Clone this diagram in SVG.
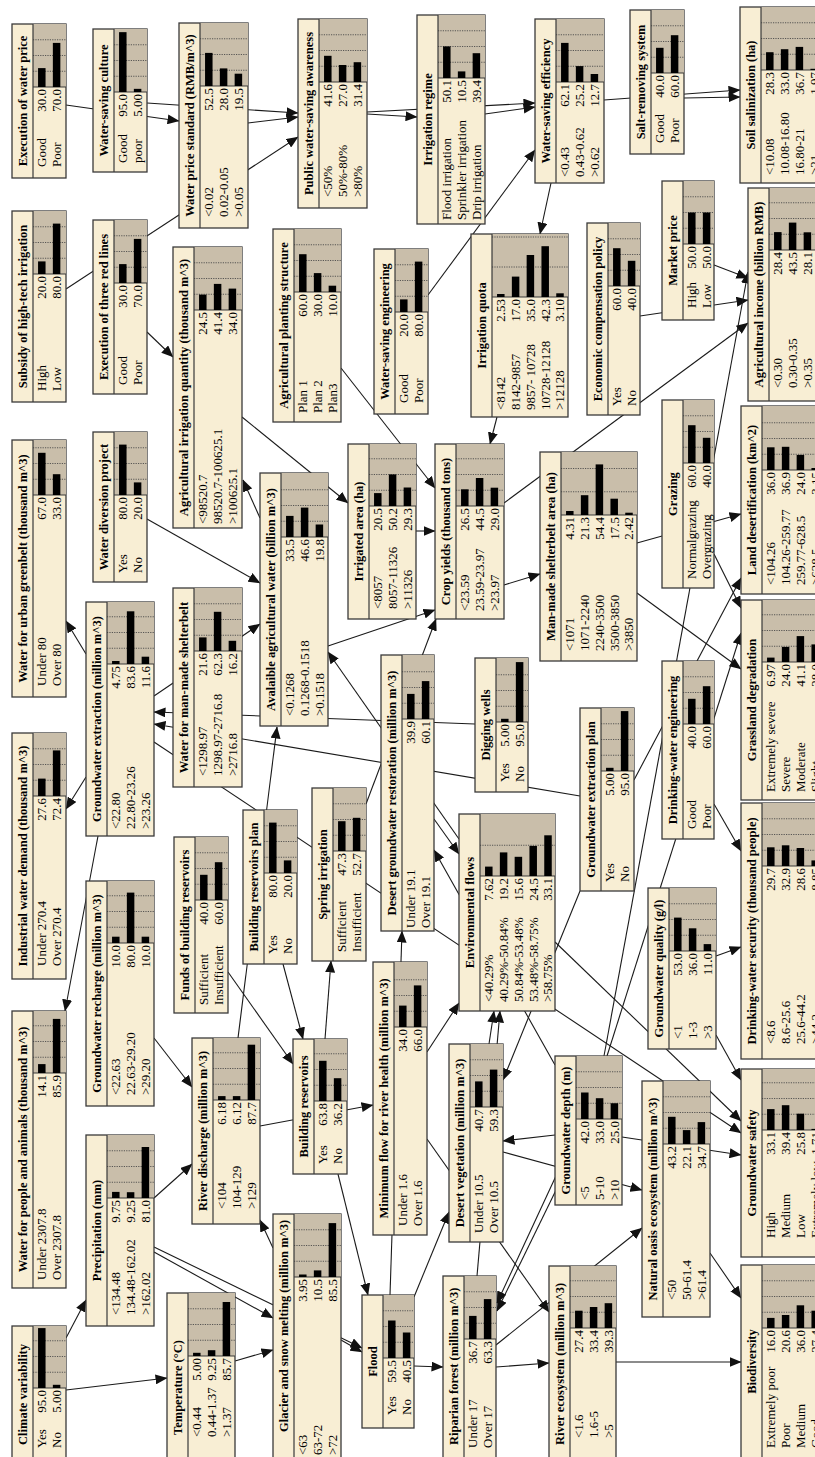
<svg xmlns="http://www.w3.org/2000/svg" width="815" height="1457" viewBox="0 0 815 1457">
<style>
.bx{fill:#f8eed4;stroke:#3a3a3a;stroke-width:1.3}
.gy{fill:#c9beaa}
.sp{fill:none;stroke:#3a3a3a;stroke-width:1.2}
.gd{fill:none;stroke:#4a4a4a;stroke-width:0.9;stroke-dasharray:1.2 1.2}
.br{fill:#000}
.tt{font-family:"Liberation Serif","Times New Roman",serif;font-weight:bold;font-size:12.5px;text-anchor:middle;fill:#000}
.ts{font-family:"Liberation Serif","Times New Roman",serif;font-weight:bold;font-size:12.5px;fill:#000}
.st{font-family:"Liberation Serif","Times New Roman",serif;font-size:13px;fill:#000}
.vl{font-family:"Liberation Serif","Times New Roman",serif;font-size:13px;text-anchor:end;fill:#000}
.cn line{stroke:#1a1a1a;stroke-width:1.1;marker-end:url(#ah)}
</style>
<defs><marker id="ah" viewBox="0 0 12 10" refX="11.5" refY="5" markerWidth="12" markerHeight="10" markerUnits="userSpaceOnUse" orient="auto"><path d="M0,0 L12,5 L0,10 z" fill="#111"/></marker></defs>
<rect width="815" height="1457" fill="#fff"/>
<g id="connectors" class="cn">
<line x1="66" y1="105" x2="179" y2="121"/>
<line x1="147" y1="103" x2="298" y2="113"/>
<line x1="248" y1="123" x2="298" y2="117"/>
<line x1="66" y1="289" x2="298" y2="137"/>
<line x1="367" y1="114" x2="417" y2="117"/>
<line x1="367" y1="112" x2="535" y2="103"/>
<line x1="485" y1="114" x2="535" y2="107"/>
<line x1="604" y1="100" x2="740" y2="90"/>
<line x1="684" y1="98" x2="740" y2="97"/>
<line x1="551" y1="183" x2="540" y2="234"/>
<line x1="428" y1="295" x2="535" y2="150"/>
<line x1="147" y1="332" x2="173" y2="357"/>
<line x1="341" y1="368" x2="435" y2="488"/>
<line x1="242" y1="417" x2="348" y2="503"/>
<line x1="714" y1="265" x2="748" y2="278"/>
<line x1="640" y1="316" x2="748" y2="300"/>
<line x1="504" y1="503" x2="748" y2="323"/>
<line x1="604" y1="1056" x2="748" y2="272"/>
<line x1="497" y1="417" x2="490" y2="444"/>
<line x1="416" y1="531" x2="435" y2="531"/>
<line x1="504" y1="585" x2="540" y2="574"/>
<line x1="328" y1="646" x2="435" y2="610"/>
<line x1="637" y1="543" x2="741" y2="514"/>
<line x1="714" y1="554" x2="741" y2="608"/>
<line x1="637" y1="593" x2="741" y2="669"/>
<line x1="634" y1="780" x2="741" y2="578"/>
<line x1="607" y1="1056" x2="741" y2="633"/>
<line x1="580" y1="796" x2="154" y2="724"/>
<line x1="475" y1="724" x2="154" y2="712"/>
<line x1="86" y1="654" x2="66" y2="621"/>
<line x1="86" y1="777" x2="66" y2="809"/>
<line x1="98" y1="836" x2="65" y2="1011"/>
<line x1="154" y1="696" x2="260" y2="624"/>
<line x1="154" y1="742" x2="741" y2="1133"/>
<line x1="147" y1="519" x2="260" y2="583"/>
<line x1="459" y1="839" x2="328" y2="652"/>
<line x1="434" y1="819" x2="459" y2="854"/>
<line x1="555" y1="1065" x2="434" y2="850"/>
<line x1="555" y1="1135" x2="503" y2="1141"/>
<line x1="503" y1="1152" x2="642" y2="1190"/>
<line x1="622" y1="1137" x2="741" y2="1155"/>
<line x1="555" y1="942" x2="741" y2="1121"/>
<line x1="716" y1="956" x2="741" y2="947"/>
<line x1="714" y1="804" x2="741" y2="851"/>
<line x1="716" y1="1035" x2="741" y2="1080"/>
<line x1="710" y1="1253" x2="741" y2="1298"/>
<line x1="616" y1="1362" x2="741" y2="1362"/>
<line x1="496" y1="1345" x2="642" y2="1228"/>
<line x1="496" y1="1367" x2="549" y2="1363"/>
<line x1="427" y1="1139" x2="549" y2="1312"/>
<line x1="477" y1="1276" x2="500" y2="1011"/>
<line x1="489" y1="1044" x2="494" y2="1011"/>
<line x1="427" y1="1052" x2="459" y2="1003"/>
<line x1="390" y1="1295" x2="402" y2="931"/>
<line x1="325" y1="1039" x2="331" y2="961"/>
<line x1="283" y1="964" x2="303" y2="1039"/>
<line x1="228" y1="972" x2="293" y2="1064"/>
<line x1="260" y1="1126" x2="373" y2="1105"/>
<line x1="338" y1="1174" x2="368" y2="1295"/>
<line x1="414" y1="1297" x2="449" y2="1212"/>
<line x1="580" y1="891" x2="503" y2="1080"/>
<line x1="273" y1="1248" x2="260" y2="1220"/>
<line x1="154" y1="1198" x2="192" y2="1164"/>
<line x1="154" y1="1038" x2="192" y2="1087"/>
<line x1="154" y1="1247" x2="362" y2="1348"/>
<line x1="154" y1="1252" x2="273" y2="1318"/>
<line x1="235" y1="1361" x2="273" y2="1350"/>
<line x1="341" y1="1340" x2="362" y2="1352"/>
<line x1="66" y1="1338" x2="86" y2="1300"/>
<line x1="66" y1="1390" x2="167" y2="1378"/>
<line x1="238" y1="1038" x2="277" y2="727"/>
<line x1="366" y1="804" x2="436" y2="619"/>
<line x1="414" y1="1366" x2="443" y2="1367"/>
<line x1="575" y1="1135" x2="497" y2="1303"/>
<line x1="600" y1="1100" x2="497" y2="1311"/>
<line x1="260" y1="518" x2="243" y2="480"/>
</g>

<g id="exec-water-price" transform="translate(12,178) rotate(-90)">
<rect class="bx" width="154" height="54"/><rect class="gy" x="91" y="21" width="63" height="33"/>
<path class="gd" d="M106.75 21V54M122.5 21V54M138.25 21V54"/><path class="sp" d="M0 21H154M91 21V54"/>
<rect class="br" x="91" y="26.05" width="18.9" height="7.5"/><rect class="br" x="91" y="40.85" width="44.1" height="7.5"/>
<text class="tt" x="77" y="15">Execution of water price</text>
<text class="st" x="11" y="34.1">Good</text><text class="st" x="11" y="48.9">Poor</text>
<text class="vl" x="89" y="34.1">30.0</text><text class="vl" x="89" y="48.9">70.0</text>
</g>
<g id="water-saving-culture" transform="translate(93,172) rotate(-90)">
<rect class="bx" width="143" height="54"/><rect class="gy" x="80" y="21" width="63" height="33"/>
<path class="gd" d="M95.75 21V54M111.5 21V54M127.25 21V54"/><path class="sp" d="M0 21H143M80 21V54"/>
<rect class="br" x="80" y="26.05" width="59.85" height="7.5"/><rect class="br" x="80" y="40.85" width="3.15" height="7.5"/>
<text class="tt" x="71.5" y="15">Water-saving culture</text>
<text class="st" x="9" y="34.1">Good</text><text class="st" x="9" y="48.9">poor</text>
<text class="vl" x="78" y="34.1">95.0</text><text class="vl" x="78" y="48.9">5.00</text>
</g>
<g id="water-price-standard" transform="translate(179,228) rotate(-90)">
<rect class="bx" width="205" height="69"/><rect class="gy" x="142" y="21" width="63" height="48"/>
<path class="gd" d="M157.75 21V69M173.5 21V69M189.25 21V69"/><path class="sp" d="M0 21H205M142 21V69"/>
<rect class="br" x="142" y="26.05" width="33.1" height="7.5"/><rect class="br" x="142" y="40.85" width="17.6" height="7.5"/><rect class="br" x="142" y="55.65" width="12.3" height="7.5"/>
<text class="tt" x="102.5" y="15">Water price standard (RMB/m^3)</text>
<text class="st" x="11" y="34.1">&lt;0.02</text><text class="st" x="11" y="48.9">0.02-0.05</text><text class="st" x="11" y="63.7">&gt;0.05</text>
<text class="vl" x="140" y="34.1">52.5</text><text class="vl" x="140" y="48.9">28.0</text><text class="vl" x="140" y="63.7">19.5</text>
</g>
<g id="public-water-saving-awareness" transform="translate(298,208) rotate(-90)">
<rect class="bx" width="189" height="69"/><rect class="gy" x="126" y="21" width="63" height="48"/>
<path class="gd" d="M141.75 21V69M157.5 21V69M173.25 21V69"/><path class="sp" d="M0 21H189M126 21V69"/>
<rect class="br" x="126" y="26.05" width="26.2" height="7.5"/><rect class="br" x="126" y="40.85" width="17" height="7.5"/><rect class="br" x="126" y="55.65" width="19.8" height="7.5"/>
<text class="tt" x="94.5" y="15">Public water-saving awareness</text>
<text class="st" x="11" y="34.1">&lt;50%</text><text class="st" x="11" y="48.9">50%-80%</text><text class="st" x="11" y="63.7">&gt;80%</text>
<text class="vl" x="124" y="34.1">41.6</text><text class="vl" x="124" y="48.9">27.0</text><text class="vl" x="124" y="63.7">31.4</text>
</g>
<g id="irrigation-regime" transform="translate(417,224) rotate(-90)">
<rect class="bx" width="209" height="68"/><rect class="gy" x="146" y="21" width="63" height="47"/>
<path class="gd" d="M161.75 21V68M177.5 21V68M193.25 21V68"/><path class="sp" d="M0 21H209M146 21V68"/>
<rect class="br" x="146" y="26.05" width="31.6" height="7.5"/><rect class="br" x="146" y="40.85" width="6.6" height="7.5"/><rect class="br" x="146" y="55.65" width="24.8" height="7.5"/>
<text class="tt" x="104.5" y="15">Irrigation regime</text>
<text class="st" x="4" y="34.1">Flood irrigation</text><text class="st" x="4" y="48.9">Sprinkler irrigation</text><text class="st" x="4" y="63.7">Drip irrigation</text>
<text class="vl" x="144" y="34.1">50.1</text><text class="vl" x="144" y="48.9">10.5</text><text class="vl" x="144" y="63.7">39.4</text>
</g>
<g id="water-saving-efficiency" transform="translate(535,183) rotate(-90)">
<rect class="bx" width="164" height="69"/><rect class="gy" x="101" y="21" width="63" height="48"/>
<path class="gd" d="M116.75 21V69M132.5 21V69M148.25 21V69"/><path class="sp" d="M0 21H164M101 21V69"/>
<rect class="br" x="101" y="26.05" width="39.1" height="7.5"/><rect class="br" x="101" y="40.85" width="15.9" height="7.5"/><rect class="br" x="101" y="55.65" width="8" height="7.5"/>
<text class="tt" x="82" y="15">Water-saving efficiency</text>
<text class="st" x="6" y="34.1">&lt;0.43</text><text class="st" x="6" y="48.9">0.43-0.62</text><text class="st" x="6" y="63.7">&gt;0.62</text>
<text class="vl" x="99" y="34.1">62.1</text><text class="vl" x="99" y="48.9">25.2</text><text class="vl" x="99" y="63.7">12.7</text>
</g>
<g id="salt-removing-system" transform="translate(630,154) rotate(-90)">
<rect class="bx" width="144" height="54"/><rect class="gy" x="81" y="21" width="63" height="33"/>
<path class="gd" d="M96.75 21V54M112.5 21V54M128.25 21V54"/><path class="sp" d="M0 21H144M81 21V54"/>
<rect class="br" x="81" y="26.05" width="25.2" height="7.5"/><rect class="br" x="81" y="40.85" width="37.8" height="7.5"/>
<text class="tt" x="72" y="15">Salt-removing system</text>
<text class="st" x="11" y="34.1">Good</text><text class="st" x="11" y="48.9">Poor</text>
<text class="vl" x="79" y="34.1">40.0</text><text class="vl" x="79" y="48.9">60.0</text>
</g>
<g id="soil-salinization" transform="translate(740,183) rotate(-90)">
<rect class="bx" width="176" height="84"/><rect class="gy" x="113" y="21" width="63" height="63"/>
<path class="gd" d="M128.75 21V84M144.5 21V84M160.25 21V84"/><path class="sp" d="M0 21H176M113 21V84"/>
<rect class="br" x="113" y="26.05" width="17.8" height="7.5"/><rect class="br" x="113" y="40.85" width="20.8" height="7.5"/><rect class="br" x="113" y="55.65" width="23.1" height="7.5"/><rect class="br" x="113" y="70.45" width="1.2" height="7.5"/>
<text class="tt" x="88" y="15">Soil salinization (ha)</text>
<text class="st" x="8" y="34.1">&lt;10.08</text><text class="st" x="8" y="48.9">10.08-16.80</text><text class="st" x="8" y="63.7">16.80-21</text><text class="st" x="8" y="78.5">&gt;21</text>
<text class="vl" x="111" y="34.1">28.3</text><text class="vl" x="111" y="48.9">33.0</text><text class="vl" x="111" y="63.7">36.7</text><text class="vl" x="111" y="78.5">1.97</text>
</g>
<g id="subsidy-high-tech-irrigation" transform="translate(12,402) rotate(-90)">
<rect class="bx" width="191" height="54"/><rect class="gy" x="128" y="21" width="63" height="33"/>
<path class="gd" d="M143.75 21V54M159.5 21V54M175.25 21V54"/><path class="sp" d="M0 21H191M128 21V54"/>
<rect class="br" x="128" y="26.05" width="12.6" height="7.5"/><rect class="br" x="128" y="40.85" width="50.4" height="7.5"/>
<text class="tt" x="95.5" y="15">Subsidy of high-tech irrigation</text>
<text class="st" x="11" y="34.1">High</text><text class="st" x="11" y="48.9">Low</text>
<text class="vl" x="126" y="34.1">20.0</text><text class="vl" x="126" y="48.9">80.0</text>
</g>
<g id="execution-three-red-lines" transform="translate(93,394) rotate(-90)">
<rect class="bx" width="174" height="54"/><rect class="gy" x="111" y="21" width="63" height="33"/>
<path class="gd" d="M126.75 21V54M142.5 21V54M158.25 21V54"/><path class="sp" d="M0 21H174M111 21V54"/>
<rect class="br" x="111" y="26.05" width="18.9" height="7.5"/><rect class="br" x="111" y="40.85" width="44.1" height="7.5"/>
<text class="tt" x="87" y="15">Execution of three red lines</text>
<text class="st" x="9" y="34.1">Good</text><text class="st" x="9" y="48.9">Poor</text>
<text class="vl" x="109" y="34.1">30.0</text><text class="vl" x="109" y="48.9">70.0</text>
</g>
<g id="agricultural-irrigation-quantity" transform="translate(173,528) rotate(-90)">
<rect class="bx" width="281" height="69"/><rect class="gy" x="218" y="21" width="63" height="48"/>
<path class="gd" d="M233.75 21V69M249.5 21V69M265.25 21V69"/><path class="sp" d="M0 21H281M218 21V69"/>
<rect class="br" x="218" y="26.05" width="15.4" height="7.5"/><rect class="br" x="218" y="40.85" width="26.1" height="7.5"/><rect class="br" x="218" y="55.65" width="21.4" height="7.5"/>
<text class="tt" x="140.5" y="15">Agricultural irrigation quantity (thousand m^3)</text>
<text class="st" x="4" y="34.1">&lt;98520.7</text><text class="st" x="4" y="48.9">98520.7-100625.1</text><text class="st" x="4" y="63.7">&gt;100625.1</text>
<text class="vl" x="216" y="34.1">24.5</text><text class="vl" x="216" y="48.9">41.4</text><text class="vl" x="216" y="63.7">34.0</text>
</g>
<g id="agricultural-planting-structure" transform="translate(273,422) rotate(-90)">
<rect class="bx" width="193" height="68"/><rect class="gy" x="130" y="21" width="63" height="47"/>
<path class="gd" d="M145.75 21V68M161.5 21V68M177.25 21V68"/><path class="sp" d="M0 21H193M130 21V68"/>
<rect class="br" x="130" y="26.05" width="37.8" height="7.5"/><rect class="br" x="130" y="40.85" width="18.9" height="7.5"/><rect class="br" x="130" y="55.65" width="6.3" height="7.5"/>
<text class="tt" x="96.5" y="15">Agricultural planting structure</text>
<text class="st" x="9" y="34.1">Plan 1</text><text class="st" x="9" y="48.9">Plan 2</text><text class="st" x="9" y="63.7">Plan3</text>
<text class="vl" x="128" y="34.1">60.0</text><text class="vl" x="128" y="48.9">30.0</text><text class="vl" x="128" y="63.7">10.0</text>
</g>
<g id="water-saving-engineering" transform="translate(374,414) rotate(-90)">
<rect class="bx" width="165" height="54"/><rect class="gy" x="102" y="21" width="63" height="33"/>
<path class="gd" d="M117.75 21V54M133.5 21V54M149.25 21V54"/><path class="sp" d="M0 21H165M102 21V54"/>
<rect class="br" x="102" y="26.05" width="12.6" height="7.5"/><rect class="br" x="102" y="40.85" width="50.4" height="7.5"/>
<text class="tt" x="82.5" y="15">Water-saving engineering</text>
<text class="st" x="11" y="34.1">Good</text><text class="st" x="11" y="48.9">Poor</text>
<text class="vl" x="100" y="34.1">20.0</text><text class="vl" x="100" y="48.9">80.0</text>
</g>
<g id="irrigation-quota" transform="translate(471,417) rotate(-90)">
<rect class="bx" width="183" height="97"/><rect class="gy" x="120" y="21" width="63" height="76"/>
<path class="gd" d="M150 21V97M180 21V97"/><path class="sp" d="M0 21H183M120 21V97"/>
<rect class="br" x="120" y="26.05" width="3" height="7.5"/><rect class="br" x="120" y="40.85" width="20.4" height="7.5"/><rect class="br" x="120" y="55.65" width="42" height="7.5"/><rect class="br" x="120" y="70.45" width="50.8" height="7.5"/><rect class="br" x="120" y="85.25" width="3.7" height="7.5"/>
<text class="tt" x="91.5" y="15">Irrigation quota</text>
<text class="st" x="7" y="34.1">&lt;8142</text><text class="st" x="7" y="48.9">8142-9857</text><text class="st" x="7" y="63.7">9857- 10728</text><text class="st" x="7" y="78.5">10728-12128</text><text class="st" x="7" y="93.3">&gt;12128</text>
<text class="vl" x="118" y="34.1">2.53</text><text class="vl" x="118" y="48.9">17.0</text><text class="vl" x="118" y="63.7">35.0</text><text class="vl" x="118" y="78.5">42.3</text><text class="vl" x="118" y="93.3">3.10</text>
</g>
<g id="economic-compensation-policy" transform="translate(587,415) rotate(-90)">
<rect class="bx" width="192" height="53"/><rect class="gy" x="129" y="21" width="63" height="32"/>
<path class="gd" d="M144.75 21V53M160.5 21V53M176.25 21V53"/><path class="sp" d="M0 21H192M129 21V53"/>
<rect class="br" x="129" y="26.05" width="37.8" height="7.5"/><rect class="br" x="129" y="40.85" width="25.2" height="7.5"/>
<text class="tt" x="96" y="15">Economic compensation policy</text>
<text class="st" x="9" y="34.1">Yes</text><text class="st" x="9" y="48.9">No</text>
<text class="vl" x="127" y="34.1">60.0</text><text class="vl" x="127" y="48.9">40.0</text>
</g>
<g id="market-price" transform="translate(662,320) rotate(-90)">
<rect class="bx" width="139" height="52"/><rect class="gy" x="76" y="21" width="63" height="31"/>
<path class="gd" d="M91.75 21V52M107.5 21V52M123.25 21V52"/><path class="sp" d="M0 21H139M76 21V52"/>
<rect class="br" x="76" y="26.05" width="31.5" height="7.5"/><rect class="br" x="76" y="40.85" width="31.5" height="7.5"/>
<text class="tt" x="69.5" y="15">Market price</text>
<text class="st" x="12" y="34.1">High</text><text class="st" x="12" y="48.9">Low</text>
<text class="vl" x="74" y="34.1">50.0</text><text class="vl" x="74" y="48.9">50.0</text>
</g>
<g id="agricultural-income" transform="translate(748,401) rotate(-90)">
<rect class="bx" width="213" height="68"/><rect class="gy" x="151" y="21" width="62" height="47"/>
<path class="gd" d="M166.75 21V68M182.5 21V68M198.25 21V68"/><path class="sp" d="M0 21H213M151 21V68"/>
<rect class="br" x="151" y="26.05" width="17.9" height="7.5"/><rect class="br" x="151" y="40.85" width="27.4" height="7.5"/><rect class="br" x="151" y="55.65" width="17.7" height="7.5"/>
<text class="tt" x="106.5" y="15">Agricultural income (billion RMB)</text>
<text class="st" x="13" y="34.1">&lt;0.30</text><text class="st" x="13" y="48.9">0.30-0.35</text><text class="st" x="13" y="63.7">&gt;0.35</text>
<text class="vl" x="149" y="34.1">28.4</text><text class="vl" x="149" y="48.9">43.5</text><text class="vl" x="149" y="63.7">28.1</text>
</g>
<g id="grazing" transform="translate(662,588) rotate(-90)">
<rect class="bx" width="188" height="52"/><rect class="gy" x="125" y="21" width="63" height="31"/>
<path class="gd" d="M140.75 21V52M156.5 21V52M172.25 21V52"/><path class="sp" d="M0 21H188M125 21V52"/>
<rect class="br" x="125" y="26.05" width="37.8" height="7.5"/><rect class="br" x="125" y="40.85" width="25.2" height="7.5"/>
<text class="tt" x="94" y="15">Grazing</text>
<text class="st" x="9" y="34.1">Normalgrazing</text><text class="st" x="9" y="48.9">Overgrazing</text>
<text class="vl" x="123" y="34.1">60.0</text><text class="vl" x="123" y="48.9">40.0</text>
</g>
<g id="land-desertification" transform="translate(741,594) rotate(-90)">
<rect class="bx" width="188" height="84"/><rect class="gy" x="124" y="21" width="64" height="63"/>
<path class="gd" d="M139.75 21V84M155.5 21V84M171.25 21V84"/><path class="sp" d="M0 21H188M124 21V84"/>
<rect class="br" x="124" y="26.05" width="22.7" height="7.5"/><rect class="br" x="124" y="40.85" width="23.2" height="7.5"/><rect class="br" x="124" y="55.65" width="15.1" height="7.5"/><rect class="br" x="124" y="70.45" width="2" height="7.5"/>
<text class="tt" x="94" y="15">Land desertification (km^2)</text>
<text class="st" x="9" y="34.1">&lt;104.26</text><text class="st" x="9" y="48.9">104.26-259.77</text><text class="st" x="9" y="63.7">259.77-628.5</text><text class="st" x="9" y="78.5">&gt;628.5</text>
<text class="vl" x="122" y="34.1">36.0</text><text class="vl" x="122" y="48.9">36.9</text><text class="vl" x="122" y="63.7">24.0</text><text class="vl" x="122" y="78.5">3.15</text>
</g>
<g id="crop-yields" transform="translate(435,619) rotate(-90)">
<rect class="bx" width="175" height="69"/><rect class="gy" x="113" y="21" width="62" height="48"/>
<path class="gd" d="M128.75 21V69M144.5 21V69M160.25 21V69"/><path class="sp" d="M0 21H175M113 21V69"/>
<rect class="br" x="113" y="26.05" width="16.7" height="7.5"/><rect class="br" x="113" y="40.85" width="28" height="7.5"/><rect class="br" x="113" y="55.65" width="18.3" height="7.5"/>
<text class="tt" x="87.5" y="15">Crop yields (thousand tons)</text>
<text class="st" x="8" y="34.1">&lt;23.59</text><text class="st" x="8" y="48.9">23.59-23.97</text><text class="st" x="8" y="63.7">&gt;23.97</text>
<text class="vl" x="111" y="34.1">26.5</text><text class="vl" x="111" y="48.9">44.5</text><text class="vl" x="111" y="63.7">29.0</text>
</g>
<g id="man-made-shelterbelt-area" transform="translate(540,661) rotate(-90)">
<rect class="bx" width="209" height="97"/><rect class="gy" x="146" y="21" width="63" height="76"/>
<path class="gd" d="M169.25 21V97M192.5 21V97"/><path class="sp" d="M0 21H209M146 21V97"/>
<rect class="br" x="146" y="26.05" width="4" height="7.5"/><rect class="br" x="146" y="40.85" width="19.8" height="7.5"/><rect class="br" x="146" y="55.65" width="50.6" height="7.5"/><rect class="br" x="146" y="70.45" width="16.3" height="7.5"/><rect class="br" x="146" y="85.25" width="2.3" height="7.5"/>
<text class="tt" x="104.5" y="15">Man-made shelterbelt area (ha)</text>
<text class="st" x="10" y="34.1">&lt;1071</text><text class="st" x="10" y="48.9">1071-2240</text><text class="st" x="10" y="63.7">2240-3500</text><text class="st" x="10" y="78.5">3500-3850</text><text class="st" x="10" y="93.3">&gt;3850</text>
<text class="vl" x="144" y="34.1">4.31</text><text class="vl" x="144" y="48.9">21.3</text><text class="vl" x="144" y="63.7">54.4</text><text class="vl" x="144" y="78.5">17.5</text><text class="vl" x="144" y="93.3">2.42</text>
</g>
<g id="irrigated-area" transform="translate(348,619) rotate(-90)">
<rect class="bx" width="175" height="68"/><rect class="gy" x="113" y="21" width="62" height="47"/>
<path class="gd" d="M128.75 21V68M144.5 21V68M160.25 21V68"/><path class="sp" d="M0 21H175M113 21V68"/>
<rect class="br" x="113" y="26.05" width="12.9" height="7.5"/><rect class="br" x="113" y="40.85" width="31.6" height="7.5"/><rect class="br" x="113" y="55.65" width="18.5" height="7.5"/>
<text class="tt" x="87.5" y="15">Irrigated area (ha)</text>
<text class="st" x="10" y="34.1">&lt;8057</text><text class="st" x="10" y="48.9">8057-11326</text><text class="st" x="10" y="63.7">&gt;11326</text>
<text class="vl" x="111" y="34.1">20.5</text><text class="vl" x="111" y="48.9">50.2</text><text class="vl" x="111" y="63.7">29.3</text>
</g>
<g id="available-agricultural-water" transform="translate(260,726) rotate(-90)">
<rect class="bx" width="253" height="68"/><rect class="gy" x="189" y="21" width="64" height="47"/>
<path class="gd" d="M204.75 21V68M220.5 21V68M236.25 21V68"/><path class="sp" d="M0 21H253M189 21V68"/>
<rect class="br" x="189" y="26.05" width="21.1" height="7.5"/><rect class="br" x="189" y="40.85" width="29.4" height="7.5"/><rect class="br" x="189" y="55.65" width="12.5" height="7.5"/>
<text class="tt" x="126.5" y="15">Avalaible agricultural water (billion m^3)</text>
<text class="st" x="10" y="34.1">&lt;0.1268</text><text class="st" x="10" y="48.9">0.1268-0.1518</text><text class="st" x="10" y="63.7">&gt;0.1518</text>
<text class="vl" x="187" y="34.1">33.5</text><text class="vl" x="187" y="48.9">46.6</text><text class="vl" x="187" y="63.7">19.8</text>
</g>
<g id="water-urban-greenbelt" transform="translate(12,697) rotate(-90)">
<rect class="bx" width="257" height="54"/><rect class="gy" x="202" y="21" width="55" height="33"/>
<path class="gd" d="M217.75 21V54M233.5 21V54M249.25 21V54"/><path class="sp" d="M0 21H257M202 21V54"/>
<rect class="br" x="202" y="26.05" width="42.2" height="7.5"/><rect class="br" x="202" y="40.85" width="20.8" height="7.5"/>
<text class="tt" x="128.5" y="15">Water for urban greenbelt (thousand m^3)</text>
<text class="st" x="11" y="34.1">Under 80</text><text class="st" x="11" y="48.9">Over 80</text>
<text class="vl" x="200" y="34.1">67.0</text><text class="vl" x="200" y="48.9">33.0</text>
</g>
<g id="water-diversion-project" transform="translate(93,582) rotate(-90)">
<rect class="bx" width="150" height="54"/><rect class="gy" x="87" y="21" width="63" height="33"/>
<path class="gd" d="M102.75 21V54M118.5 21V54M134.25 21V54"/><path class="sp" d="M0 21H150M87 21V54"/>
<rect class="br" x="87" y="26.05" width="50.4" height="7.5"/><rect class="br" x="87" y="40.85" width="12.6" height="7.5"/>
<text class="tt" x="75" y="15">Water diversion project</text>
<text class="st" x="9" y="34.1">Yes</text><text class="st" x="9" y="48.9">No</text>
<text class="vl" x="85" y="34.1">80.0</text><text class="vl" x="85" y="48.9">20.0</text>
</g>
<g id="groundwater-extraction" transform="translate(86,836) rotate(-90)">
<rect class="bx" width="234" height="68"/><rect class="gy" x="172" y="21" width="62" height="47"/>
<path class="gd" d="M187.75 21V68M203.5 21V68M219.25 21V68"/><path class="sp" d="M0 21H234M172 21V68"/>
<rect class="br" x="172" y="26.05" width="3" height="7.5"/><rect class="br" x="172" y="40.85" width="52.7" height="7.5"/><rect class="br" x="172" y="55.65" width="7.3" height="7.5"/>
<text class="tt" x="117" y="15">Groundwater extraction (million m^3)</text>
<text class="st" x="7" y="34.1">&lt;22.80</text><text class="st" x="7" y="48.9">22.80-23.26</text><text class="st" x="7" y="63.7">&gt;23.26</text>
<text class="vl" x="170" y="34.1">4.75</text><text class="vl" x="170" y="48.9">83.6</text><text class="vl" x="170" y="63.7">11.6</text>
</g>
<g id="water-man-made-shelterbelt" transform="translate(173,787) rotate(-90)">
<rect class="bx" width="199" height="69"/><rect class="gy" x="136" y="21" width="63" height="48"/>
<path class="gd" d="M151.75 21V69M167.5 21V69M183.25 21V69"/><path class="sp" d="M0 21H199M136 21V69"/>
<rect class="br" x="136" y="26.05" width="13.6" height="7.5"/><rect class="br" x="136" y="40.85" width="39.2" height="7.5"/><rect class="br" x="136" y="55.65" width="10.2" height="7.5"/>
<text class="tt" x="99.5" y="15">Water for man-made shelterbelt</text>
<text class="st" x="11" y="34.1">&lt;1298.97</text><text class="st" x="11" y="48.9">1298.97-2716.8</text><text class="st" x="11" y="63.7">&gt;2716.8</text>
<text class="vl" x="134" y="34.1">21.6</text><text class="vl" x="134" y="48.9">62.3</text><text class="vl" x="134" y="63.7">16.2</text>
</g>
<g id="industrial-water-demand" transform="translate(12,979) rotate(-90)">
<rect class="bx" width="246" height="54"/><rect class="gy" x="183" y="21" width="63" height="33"/>
<path class="gd" d="M198.75 21V54M214.5 21V54M230.25 21V54"/><path class="sp" d="M0 21H246M183 21V54"/>
<rect class="br" x="183" y="26.05" width="17.4" height="7.5"/><rect class="br" x="183" y="40.85" width="45.6" height="7.5"/>
<text class="tt" x="123" y="15">Industrial water demand (thousand m^3)</text>
<text class="st" x="13" y="34.1">Under 270.4</text><text class="st" x="13" y="48.9">Over 270.4</text>
<text class="vl" x="181" y="34.1">27.6</text><text class="vl" x="181" y="48.9">72.4</text>
</g>
<g id="groundwater-recharge" transform="translate(86,1106) rotate(-90)">
<rect class="bx" width="225" height="68"/><rect class="gy" x="163" y="21" width="62" height="47"/>
<path class="gd" d="M178.75 21V68M194.5 21V68M210.25 21V68"/><path class="sp" d="M0 21H225M163 21V68"/>
<rect class="br" x="163" y="26.05" width="6.3" height="7.5"/><rect class="br" x="163" y="40.85" width="50.4" height="7.5"/><rect class="br" x="163" y="55.65" width="6.3" height="7.5"/>
<text class="tt" x="112.5" y="15">Groundwater recharge (million m^3)</text>
<text class="st" x="11" y="34.1">&lt;22.63</text><text class="st" x="11" y="48.9">22.63-29.20</text><text class="st" x="11" y="63.7">&gt;29.20</text>
<text class="vl" x="161" y="34.1">10.0</text><text class="vl" x="161" y="48.9">80.0</text><text class="vl" x="161" y="63.7">10.0</text>
</g>
<g id="funds-building-reservoirs" transform="translate(174,1013) rotate(-90)">
<rect class="bx" width="176" height="54"/><rect class="gy" x="113" y="21" width="63" height="33"/>
<path class="gd" d="M128.75 21V54M144.5 21V54M160.25 21V54"/><path class="sp" d="M0 21H176M113 21V54"/>
<rect class="br" x="113" y="26.05" width="25.2" height="7.5"/><rect class="br" x="113" y="40.85" width="37.8" height="7.5"/>
<text class="tt" x="88" y="15">Funds of building reservoirs</text>
<text class="st" x="8" y="34.1">Sufficient</text><text class="st" x="8" y="48.9">Insufficient</text>
<text class="vl" x="111" y="34.1">40.0</text><text class="vl" x="111" y="48.9">60.0</text>
</g>
<g id="building-reservoirs-plan" transform="translate(243,964) rotate(-90)">
<rect class="bx" width="154" height="54"/><rect class="gy" x="91" y="21" width="63" height="33"/>
<path class="gd" d="M106.75 21V54M122.5 21V54M138.25 21V54"/><path class="sp" d="M0 21H154M91 21V54"/>
<rect class="br" x="91" y="26.05" width="50.4" height="7.5"/><rect class="br" x="91" y="40.85" width="12.6" height="7.5"/>
<text class="tt" x="77" y="15">Building reservoirs plan</text>
<text class="st" x="10" y="34.1">Yes</text><text class="st" x="10" y="48.9">No</text>
<text class="vl" x="89" y="34.1">80.0</text><text class="vl" x="89" y="48.9">20.0</text>
</g>
<g id="spring-irrigation" transform="translate(312,961) rotate(-90)">
<rect class="bx" width="173" height="54"/><rect class="gy" x="110" y="21" width="63" height="33"/>
<path class="gd" d="M125.75 21V54M141.5 21V54M157.25 21V54"/><path class="sp" d="M0 21H173M110 21V54"/>
<rect class="br" x="110" y="26.05" width="29.8" height="7.5"/><rect class="br" x="110" y="40.85" width="33.2" height="7.5"/>
<text class="tt" x="86.5" y="15">Spring irrigation</text>
<text class="st" x="9" y="34.1">Sufficient</text><text class="st" x="9" y="48.9">Insufficient</text>
<text class="vl" x="108" y="34.1">47.3</text><text class="vl" x="108" y="48.9">52.7</text>
</g>
<g id="desert-groundwater-restoration" transform="translate(381,931) rotate(-90)">
<rect class="bx" width="276" height="53"/><rect class="gy" x="212" y="21" width="64" height="32"/>
<path class="gd" d="M227.75 21V53M243.5 21V53M259.25 21V53"/><path class="sp" d="M0 21H276M212 21V53"/>
<rect class="br" x="212" y="26.05" width="25.1" height="7.5"/><rect class="br" x="212" y="40.85" width="37.9" height="7.5"/>
<text class="tt" x="138" y="15">Desert groundwater restoration (million m^3)</text>
<text class="st" x="3" y="34.1">Under 19.1</text><text class="st" x="3" y="48.9">Over 19.1</text>
<text class="vl" x="210" y="34.1">39.9</text><text class="vl" x="210" y="48.9">60.1</text>
</g>
<g id="digging-wells" transform="translate(475,792) rotate(-90)">
<rect class="bx" width="134" height="53"/><rect class="gy" x="70" y="21" width="64" height="32"/>
<path class="gd" d="M85.75 21V53M101.5 21V53M117.25 21V53"/><path class="sp" d="M0 21H134M70 21V53"/>
<rect class="br" x="70" y="26.05" width="3.2" height="7.5"/><rect class="br" x="70" y="40.85" width="59.9" height="7.5"/>
<text class="tt" x="67" y="15">Digging wells</text>
<text class="st" x="10" y="34.1">Yes</text><text class="st" x="10" y="48.9">No</text>
<text class="vl" x="68" y="34.1">5.00</text><text class="vl" x="68" y="48.9">95.0</text>
</g>
<g id="groundwater-extraction-plan" transform="translate(580,891) rotate(-90)">
<rect class="bx" width="183" height="54"/><rect class="gy" x="120" y="21" width="63" height="33"/>
<path class="gd" d="M135.75 21V54M151.5 21V54M167.25 21V54"/><path class="sp" d="M0 21H183M120 21V54"/>
<rect class="br" x="120" y="26.05" width="3.2" height="7.5"/><rect class="br" x="120" y="40.85" width="59.9" height="7.5"/>
<text class="tt" x="91.5" y="15">Groundwater extraction plan</text>
<text class="st" x="9" y="34.1">Yes</text><text class="st" x="9" y="48.9">No</text>
<text class="vl" x="118" y="34.1">5.00</text><text class="vl" x="118" y="48.9">95.0</text>
</g>
<g id="drinking-water-engineering" transform="translate(662,839) rotate(-90)">
<rect class="bx" width="178" height="52"/><rect class="gy" x="115" y="21" width="63" height="31"/>
<path class="gd" d="M130.75 21V52M146.5 21V52M162.25 21V52"/><path class="sp" d="M0 21H178M115 21V52"/>
<rect class="br" x="115" y="26.05" width="25.2" height="7.5"/><rect class="br" x="115" y="40.85" width="37.8" height="7.5"/>
<text class="tt" x="89" y="15">Drinking-water engineering</text>
<text class="st" x="10" y="34.1">Good</text><text class="st" x="10" y="48.9">Poor</text>
<text class="vl" x="113" y="34.1">40.0</text><text class="vl" x="113" y="48.9">60.0</text>
</g>
<g id="grassland-degradation" transform="translate(741,800) rotate(-90)">
<rect class="bx" width="200" height="84"/><rect class="gy" x="138" y="21" width="62" height="63"/>
<path class="gd" d="M153.75 21V84M169.5 21V84M185.25 21V84"/><path class="sp" d="M0 21H200M138 21V84"/>
<rect class="br" x="138" y="26.05" width="4.4" height="7.5"/><rect class="br" x="138" y="40.85" width="15.1" height="7.5"/><rect class="br" x="138" y="55.65" width="25.9" height="7.5"/><rect class="br" x="138" y="70.45" width="17.6" height="7.5"/>
<text class="tt" x="100" y="15">Grassland degradation</text>
<text class="st" x="8" y="34.1">Extremely severe</text><text class="st" x="8" y="48.9">Severe</text><text class="st" x="8" y="63.7">Moderate</text><text class="st" x="8" y="78.5">Slight</text>
<text class="vl" x="136" y="34.1">6.97</text><text class="vl" x="136" y="48.9">24.0</text><text class="vl" x="136" y="63.7">41.1</text><text class="vl" x="136" y="78.5">28.0</text>
</g>
<g id="drinking-water-security" transform="translate(741,1059) rotate(-90)">
<rect class="bx" width="256" height="84"/><rect class="gy" x="193" y="21" width="63" height="63"/>
<path class="gd" d="M208.75 21V84M224.5 21V84M240.25 21V84"/><path class="sp" d="M0 21H256M193 21V84"/>
<rect class="br" x="193" y="26.05" width="18.7" height="7.5"/><rect class="br" x="193" y="40.85" width="20.7" height="7.5"/><rect class="br" x="193" y="55.65" width="18" height="7.5"/><rect class="br" x="193" y="70.45" width="5.6" height="7.5"/>
<text class="tt" x="128" y="15">Drinking-water security (thousand people)</text>
<text class="st" x="15" y="34.1">&lt;8.6</text><text class="st" x="15" y="48.9">8.6-25.6</text><text class="st" x="15" y="63.7">25.6-44.2</text><text class="st" x="15" y="78.5">&gt;44.2</text>
<text class="vl" x="191" y="34.1">29.7</text><text class="vl" x="191" y="48.9">32.9</text><text class="vl" x="191" y="63.7">28.6</text><text class="vl" x="191" y="78.5">8.85</text>
</g>
<g id="environmental-flows" transform="translate(459,1011) rotate(-90)">
<rect class="bx" width="197" height="96"/><rect class="gy" x="135" y="21" width="62" height="75"/>
<path class="gd" d="M165.75 21V96"/><path class="sp" d="M0 21H197M135 21V96"/>
<rect class="br" x="135" y="26.05" width="9.4" height="7.5"/><rect class="br" x="135" y="40.85" width="23.6" height="7.5"/><rect class="br" x="135" y="55.65" width="19.2" height="7.5"/><rect class="br" x="135" y="70.45" width="30.1" height="7.5"/><rect class="br" x="135" y="85.25" width="40.7" height="7.5"/>
<text class="tt" x="98.5" y="15">Environmental flows</text>
<text class="st" x="9" y="34.1">&lt;40.29%</text><text class="st" x="9" y="48.9">40.29%-50.84%</text><text class="st" x="9" y="63.7">50.84%-53.48%</text><text class="st" x="9" y="78.5">53.48%-58.75%</text><text class="st" x="9" y="93.3">&gt;58.75%</text>
<text class="vl" x="133" y="34.1">7.62</text><text class="vl" x="133" y="48.9">19.2</text><text class="vl" x="133" y="63.7">15.6</text><text class="vl" x="133" y="78.5">24.5</text><text class="vl" x="133" y="93.3">33.1</text>
</g>
<g id="groundwater-quality" transform="translate(648,1049) rotate(-90)">
<rect class="bx" width="161" height="68"/><rect class="gy" x="98" y="21" width="63" height="47"/>
<path class="gd" d="M113.75 21V68M129.5 21V68M145.25 21V68"/><path class="sp" d="M0 21H161M98 21V68"/>
<rect class="br" x="98" y="26.05" width="33.4" height="7.5"/><rect class="br" x="98" y="40.85" width="22.7" height="7.5"/><rect class="br" x="98" y="55.65" width="6.9" height="7.5"/>
<text class="tt" x="80.5" y="15">Groundwater quality (g/l)</text>
<text class="st" x="10" y="34.1">&lt;1</text><text class="st" x="10" y="48.9">1-3</text><text class="st" x="10" y="63.7">&gt;3</text>
<text class="vl" x="96" y="34.1">53.0</text><text class="vl" x="96" y="48.9">36.0</text><text class="vl" x="96" y="63.7">11.0</text>
</g>
<g id="water-people-animals" transform="translate(12,1288) rotate(-90)">
<rect class="bx" width="277" height="54"/><rect class="gy" x="215" y="21" width="62" height="33"/>
<path class="gd" d="M230.75 21V54M246.5 21V54M262.25 21V54"/><path class="sp" d="M0 21H277M215 21V54"/>
<rect class="br" x="215" y="26.05" width="8.9" height="7.5"/><rect class="br" x="215" y="40.85" width="54.1" height="7.5"/>
<text class="tt" x="138.5" y="15">Water for people and animals (thousand m^3)</text>
<text class="st" x="8" y="34.1">Under 2307.8</text><text class="st" x="8" y="48.9">Over 2307.8</text>
<text class="vl" x="213" y="34.1">14.1</text><text class="vl" x="213" y="48.9">85.9</text>
</g>
<g id="precipitation" transform="translate(86,1326) rotate(-90)">
<rect class="bx" width="191" height="68"/><rect class="gy" x="128" y="21" width="63" height="47"/>
<path class="gd" d="M143.75 21V68M159.5 21V68M175.25 21V68"/><path class="sp" d="M0 21H191M128 21V68"/>
<rect class="br" x="128" y="26.05" width="6.1" height="7.5"/><rect class="br" x="128" y="40.85" width="5.8" height="7.5"/><rect class="br" x="128" y="55.65" width="51" height="7.5"/>
<text class="tt" x="95.5" y="15">Precipitation (mm)</text>
<text class="st" x="11" y="34.1">&lt;134.48</text><text class="st" x="11" y="48.9">134.48-162.02</text><text class="st" x="11" y="63.7">&gt;162.02</text>
<text class="vl" x="126" y="34.1">9.75</text><text class="vl" x="126" y="48.9">9.25</text><text class="vl" x="126" y="63.7">81.0</text>
</g>
<g id="river-discharge" transform="translate(192,1224) rotate(-90)">
<rect class="bx" width="186" height="68"/><rect class="gy" x="124" y="21" width="62" height="47"/>
<path class="gd" d="M139.75 21V68M155.5 21V68M171.25 21V68"/><path class="sp" d="M0 21H186M124 21V68"/>
<rect class="br" x="124" y="26.05" width="3.9" height="7.5"/><rect class="br" x="124" y="40.85" width="3.9" height="7.5"/><rect class="br" x="124" y="55.65" width="55.3" height="7.5"/>
<text class="tt" x="93" y="15">River discharge (million m^3)</text>
<text class="st" x="15" y="34.1">&lt;104</text><text class="st" x="15" y="48.9">104-129</text><text class="st" x="15" y="63.7">&gt;129</text>
<text class="vl" x="122" y="34.1">6.18</text><text class="vl" x="122" y="48.9">6.12</text><text class="vl" x="122" y="63.7">87.7</text>
</g>
<g id="building-reservoirs" transform="translate(293,1174) rotate(-90)">
<rect class="bx" width="135" height="54"/><rect class="gy" x="73" y="21" width="62" height="33"/>
<path class="gd" d="M88.75 21V54M104.5 21V54M120.25 21V54"/><path class="sp" d="M0 21H135M73 21V54"/>
<rect class="br" x="73" y="26.05" width="40.2" height="7.5"/><rect class="br" x="73" y="40.85" width="22.8" height="7.5"/>
<text class="tt" x="67.5" y="15">Building reservoirs</text>
<text class="st" x="10" y="34.1">Yes</text><text class="st" x="10" y="48.9">No</text>
<text class="vl" x="71" y="34.1">63.8</text><text class="vl" x="71" y="48.9">36.2</text>
</g>
<g id="minimum-flow-river-health" transform="translate(373,1235) rotate(-90)">
<rect class="bx" width="273" height="54"/><rect class="gy" x="208" y="21" width="65" height="33"/>
<path class="gd" d="M223.75 21V54M239.5 21V54M255.25 21V54"/><path class="sp" d="M0 21H273M208 21V54"/>
<rect class="br" x="208" y="26.05" width="21.4" height="7.5"/><rect class="br" x="208" y="40.85" width="41.6" height="7.5"/>
<text class="tt" x="136.5" y="15">Minimum flow for river health (million m^3)</text>
<text class="st" x="9" y="34.1">Under 1.6</text><text class="st" x="9" y="48.9">Over 1.6</text>
<text class="vl" x="206" y="34.1">34.0</text><text class="vl" x="206" y="48.9">66.0</text>
</g>
<g id="desert-vegetation" transform="translate(449,1242) rotate(-90)">
<rect class="bx" width="198" height="54"/><rect class="gy" x="135" y="21" width="63" height="33"/>
<path class="gd" d="M150.75 21V54M166.5 21V54M182.25 21V54"/><path class="sp" d="M0 21H198M135 21V54"/>
<rect class="br" x="135" y="26.05" width="25.6" height="7.5"/><rect class="br" x="135" y="40.85" width="37.4" height="7.5"/>
<text class="tt" x="99" y="15">Desert vegetation (million m^3)</text>
<text class="st" x="9" y="34.1">Under 10.5</text><text class="st" x="9" y="48.9">Over 10.5</text>
<text class="vl" x="133" y="34.1">40.7</text><text class="vl" x="133" y="48.9">59.3</text>
</g>
<g id="groundwater-depth" transform="translate(555,1205) rotate(-90)">
<rect class="bx" width="149" height="67"/><rect class="gy" x="86" y="21" width="63" height="46"/>
<path class="gd" d="M101.75 21V67M117.5 21V67M133.25 21V67"/><path class="sp" d="M0 21H149M86 21V67"/>
<rect class="br" x="86" y="26.05" width="26.5" height="7.5"/><rect class="br" x="86" y="40.85" width="20.8" height="7.5"/><rect class="br" x="86" y="55.65" width="15.75" height="7.5"/>
<text class="tt" x="74.5" y="15">Groundwater depth (m)</text>
<text class="st" x="5" y="34.1">&lt;5</text><text class="st" x="5" y="48.9">5-10</text><text class="st" x="5" y="63.7">&gt;10</text>
<text class="vl" x="84" y="34.1">42.0</text><text class="vl" x="84" y="48.9">33.0</text><text class="vl" x="84" y="63.7">25.0</text>
</g>
<g id="natural-oasis-ecosystem" transform="translate(642,1317) rotate(-90)">
<rect class="bx" width="236" height="68"/><rect class="gy" x="173" y="21" width="63" height="47"/>
<path class="gd" d="M188.75 21V68M204.5 21V68M220.25 21V68"/><path class="sp" d="M0 21H236M173 21V68"/>
<rect class="br" x="173" y="26.05" width="27.2" height="7.5"/><rect class="br" x="173" y="40.85" width="13.9" height="7.5"/><rect class="br" x="173" y="55.65" width="21.9" height="7.5"/>
<text class="tt" x="118" y="15">Natural oasis ecosystem (million m^3)</text>
<text class="st" x="17" y="34.1">&lt;50</text><text class="st" x="17" y="48.9">50-61.4</text><text class="st" x="17" y="63.7">&gt;61.4</text>
<text class="vl" x="171" y="34.1">43.2</text><text class="vl" x="171" y="48.9">22.1</text><text class="vl" x="171" y="63.7">34.7</text>
</g>
<g id="groundwater-safety" transform="translate(741,1257) rotate(-90)">
<rect class="bx" width="188" height="84"/><rect class="gy" x="127" y="21" width="61" height="63"/>
<path class="gd" d="M142.75 21V84M158.5 21V84M174.25 21V84"/><path class="sp" d="M0 21H188M127 21V84"/>
<rect class="br" x="127" y="26.05" width="20.9" height="7.5"/><rect class="br" x="127" y="40.85" width="24.8" height="7.5"/><rect class="br" x="127" y="55.65" width="16.3" height="7.5"/><rect class="br" x="127" y="70.45" width="1.1" height="7.5"/>
<text class="tt" x="94" y="15">Groundwater safety</text>
<text class="st" x="19" y="34.1">High</text><text class="st" x="19" y="48.9">Medium</text><text class="st" x="19" y="63.7">Low</text><text class="st" x="19" y="78.5">Extremely low</text>
<text class="vl" x="125" y="34.1">33.1</text><text class="vl" x="125" y="48.9">39.4</text><text class="vl" x="125" y="63.7">25.8</text><text class="vl" x="125" y="78.5">1.71</text>
</g>
<g id="climate-variability" transform="translate(12,1470) rotate(-90)">
<rect class="bx" width="144" height="54"/><rect class="gy" x="82" y="21" width="62" height="33"/>
<path class="gd" d="M97.75 21V54M113.5 21V54M129.25 21V54"/><path class="sp" d="M0 21H144M82 21V54"/>
<rect class="br" x="82" y="26.05" width="59.9" height="7.5"/><rect class="br" x="82" y="40.85" width="3.2" height="7.5"/>
<text class="ts" x="25" y="15">Climate variability</text>
<text class="st" x="22" y="34.1">Yes</text><text class="st" x="22" y="48.9">No</text>
<text class="vl" x="80" y="34.1">95.0</text><text class="vl" x="80" y="48.9">5.00</text>
</g>
<g id="temperature" transform="translate(167,1470) rotate(-90)">
<rect class="bx" width="177" height="68"/><rect class="gy" x="114" y="21" width="63" height="47"/>
<path class="gd" d="M129.75 21V68M145.5 21V68M161.25 21V68"/><path class="sp" d="M0 21H177M114 21V68"/>
<rect class="br" x="114" y="26.05" width="3.2" height="7.5"/><rect class="br" x="114" y="40.85" width="5.8" height="7.5"/><rect class="br" x="114" y="55.65" width="54" height="7.5"/>
<text class="ts" x="35" y="15">Temperature (°C)</text>
<text class="st" x="33" y="34.1">&lt;0.44</text><text class="st" x="33" y="48.9">0.44-1.37</text><text class="st" x="33" y="63.7">&gt;1.37</text>
<text class="vl" x="112" y="34.1">5.00</text><text class="vl" x="112" y="48.9">9.25</text><text class="vl" x="112" y="63.7">85.7</text>
</g>
<g id="glacier-snow-melting" transform="translate(273,1470) rotate(-90)">
<rect class="bx" width="256" height="68"/><rect class="gy" x="193" y="21" width="63" height="47"/>
<path class="gd" d="M208.75 21V68M224.5 21V68M240.25 21V68"/><path class="sp" d="M0 21H256M193 21V68"/>
<rect class="br" x="193" y="26.05" width="2.5" height="7.5"/><rect class="br" x="193" y="40.85" width="6.6" height="7.5"/><rect class="br" x="193" y="55.65" width="53.9" height="7.5"/>
<text class="ts" x="38" y="15">Glacier and snow melting (million m^3)</text>
<text class="st" x="15" y="34.1">&lt;63</text><text class="st" x="15" y="48.9">63-72</text><text class="st" x="15" y="63.7">&gt;72</text>
<text class="vl" x="191" y="34.1">3.95</text><text class="vl" x="191" y="48.9">10.5</text><text class="vl" x="191" y="63.7">85.5</text>
</g>
<g id="flood" transform="translate(362,1428) rotate(-90)">
<rect class="bx" width="133" height="52"/><rect class="gy" x="70" y="21" width="63" height="31"/>
<path class="gd" d="M85.75 21V52M101.5 21V52M117.25 21V52"/><path class="sp" d="M0 21H133M70 21V52"/>
<rect class="br" x="70" y="26.05" width="37.5" height="7.5"/><rect class="br" x="70" y="40.85" width="25.5" height="7.5"/>
<text class="tt" x="66.5" y="15">Flood</text>
<text class="st" x="13" y="34.1">Yes</text><text class="st" x="13" y="48.9">No</text>
<text class="vl" x="68" y="34.1">59.5</text><text class="vl" x="68" y="48.9">40.5</text>
</g>
<g id="riparian-forest" transform="translate(443,1470) rotate(-90)">
<rect class="bx" width="194" height="53"/><rect class="gy" x="131" y="21" width="63" height="32"/>
<path class="gd" d="M146.75 21V53M162.5 21V53M178.25 21V53"/><path class="sp" d="M0 21H194M131 21V53"/>
<rect class="br" x="131" y="26.05" width="23.1" height="7.5"/><rect class="br" x="131" y="40.85" width="39.9" height="7.5"/>
<text class="ts" x="25" y="15">Riparian forest (million m^3)</text>
<text class="st" x="22" y="34.1">Under 17</text><text class="st" x="22" y="48.9">Over 17</text>
<text class="vl" x="129" y="34.1">36.7</text><text class="vl" x="129" y="48.9">63.3</text>
</g>
<g id="river-ecosystem" transform="translate(549,1470) rotate(-90)">
<rect class="bx" width="204" height="67"/><rect class="gy" x="142" y="21" width="62" height="46"/>
<path class="gd" d="M157.75 21V67M173.5 21V67M189.25 21V67"/><path class="sp" d="M0 21H204M142 21V67"/>
<rect class="br" x="142" y="26.05" width="17.3" height="7.5"/><rect class="br" x="142" y="40.85" width="21" height="7.5"/><rect class="br" x="142" y="55.65" width="24.8" height="7.5"/>
<text class="ts" x="25" y="15">River ecosystem (million m^3)</text>
<text class="st" x="32" y="34.1">&lt;1.6</text><text class="st" x="32" y="48.9">1.6-5</text><text class="st" x="32" y="63.7">&gt;5</text>
<text class="vl" x="140" y="34.1">27.4</text><text class="vl" x="140" y="48.9">33.4</text><text class="vl" x="140" y="63.7">39.3</text>
</g>
<g id="biodiversity" transform="translate(741,1470) rotate(-90)">
<rect class="bx" width="205" height="84"/><rect class="gy" x="142" y="21" width="63" height="63"/>
<path class="gd" d="M157.75 21V84M173.5 21V84M189.25 21V84"/><path class="sp" d="M0 21H205M142 21V84"/>
<rect class="br" x="142" y="26.05" width="10.1" height="7.5"/><rect class="br" x="142" y="40.85" width="13" height="7.5"/><rect class="br" x="142" y="55.65" width="22.7" height="7.5"/><rect class="br" x="142" y="70.45" width="17.3" height="7.5"/>
<text class="tt" x="108.5" y="15">Biodiversity</text>
<text class="st" x="22" y="34.1">Extremely poor</text><text class="st" x="22" y="48.9">Poor</text><text class="st" x="22" y="63.7">Medium</text><text class="st" x="22" y="78.5">Good</text>
<text class="vl" x="140" y="34.1">16.0</text><text class="vl" x="140" y="48.9">20.6</text><text class="vl" x="140" y="63.7">36.0</text><text class="vl" x="140" y="78.5">27.4</text>
</g>
</svg>
